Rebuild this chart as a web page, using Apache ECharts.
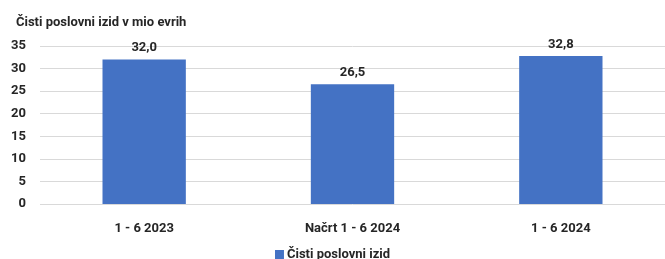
<!DOCTYPE html>
<html><head><meta charset="utf-8">
<script src="https://cdn.jsdelivr.net/npm/echarts@6/dist/echarts.min.js"></script>
<style>html,body{margin:0;padding:0;background:#fff}#c{width:665px;height:259px}</style>
</head><body><div id="c"></div>
<script>
const categories = ["1 - 6 2023", "Načrt 1 - 6 2024", "1 - 6 2024"];
const values = [32.0, 26.5, 32.8];
const seriesName = "Čisti poslovni izid";
const titleText = "Čisti poslovni izid v mio evrih";
const font = "Roboto, 'DejaVu Sans Condensed', sans-serif";
const chart = echarts.init(document.getElementById('c'), null, {renderer: 'canvas'});
chart.setOption({
  animation: false,
  title: {text: titleText, left: 11, top: 11, textStyle: {fontFamily: font, fontSize: 13, fontWeight: 'bold', color: '#262626'}},
  grid: {left: 40, right: 0, top: 46, bottom: 55, containLabel: false},
  legend: {data: [seriesName], bottom: -7, left: 'center', itemWidth: 9, itemHeight: 9, itemGap: 4, icon: 'rect',
    textStyle: {fontFamily: font, fontSize: 13, fontWeight: 'bold', color: '#262626', padding: [0,0,0,-2]}},
  xAxis: {type: 'category', data: categories, axisLine: {show: false}, axisTick: {show: false},
    axisLabel: {margin: 18, fontFamily: font, fontSize: 13, fontWeight: 'bold', color: '#262626'}},
  yAxis: {type: 'value', min: 0, max: 35, interval: 5, axisLine: {show: false}, axisTick: {show: false},
    splitLine: {lineStyle: {color: '#d9d9d9', width: 1}},
    axisLabel: {margin: 14, fontFamily: font, fontSize: 13, fontWeight: 'bold', color: '#262626'}},
  series: [{name: seriesName, type: 'bar', data: values, barWidth: '40%',
    itemStyle: {color: '#4472C4'},
    label: {show: true, position: 'top', distance: 5, fontFamily: font, fontSize: 13, fontWeight: 'bold', color: '#262626',
      formatter: p => p.value.toFixed(1).replace('.', ',')}}]
});
</script></body></html>
